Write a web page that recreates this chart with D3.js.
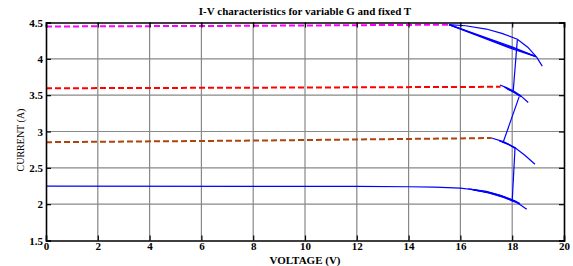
<!DOCTYPE html>
<html>
<head>
<meta charset="utf-8">
<script src="https://cdn.jsdelivr.net/npm/d3@7"></script>
<style>
  body { margin: 0; background: #fff; }
  text { font-family: "Liberation Serif", "Times New Roman", serif; }
</style>
</head>
<body>
<div id="my-draw"></div>
<script>
// tick values
var xTicks = [0, 2, 4, 6, 8, 10, 12, 14, 16, 18, 20];
var yTicks = [1.5, 2, 2.5, 3, 3.5, 4, 4.5];

// dashed parts (V, I)
var dashG1 = [[0, 4.445], [8, 4.455], [15.56, 4.47]];
var dashG2 = [[0, 3.595], [8, 3.603], [17.55, 3.615]];
var dashG3 = [[0, 2.853], [8, 2.875], [17.2, 2.91]];

// blue solid curve of lowest G
var curveG4 = [[0, 2.247], [12, 2.245], [14, 2.24], [15, 2.235], [16, 2.22], [16.6, 2.195],
               [17.14, 2.16], [17.5, 2.125], [17.92, 2.07], [18.2, 2.02], [18.56, 1.93]];
var bandG4 = [
  [[16.3, 2.212], [17.0, 2.175], [17.6, 2.115], [18.1, 2.045], [18.3, 2.01]],
  [[16.4, 2.204], [17.0, 2.165], [17.6, 2.105], [18.1, 2.035], [18.3, 2.0]],
  [[16.5, 2.196], [17.1, 2.155], [17.7, 2.09], [18.1, 2.03]]
];

// blue knees of the other curves
var kneeG1 = [[15.56, 4.47], [16.2, 4.455], [17.0, 4.41], [17.6, 4.35], [18.2, 4.27],
              [18.6, 4.16], [18.95, 4.02], [19.16, 3.90]];
var chordsG1 = [
  [[15.56, 4.47], [18.04, 4.158], [18.92, 4.03]],
  [[15.56, 4.47], [18.04, 4.145], [18.92, 4.03]],
  [[15.56, 4.47], [18.04, 4.132], [18.92, 4.03]]
];
var kneeG2 = [
  [[17.53, 3.64], [17.8, 3.60], [18.04, 3.56], [18.3, 3.50], [18.62, 3.40]],
  [[17.7, 3.61], [18.0, 3.555], [18.3, 3.49]],
  [[17.8, 3.585], [18.1, 3.535], [18.35, 3.48]]
];
var kneeG3 = [
  [[17.2, 2.91], [17.66, 2.86], [18.1, 2.78], [18.5, 2.67], [18.88, 2.55]],
  [[17.5, 2.87], [17.8, 2.835], [18.1, 2.77]],
  [[17.6, 2.855], [17.9, 2.815], [18.15, 2.765]]
];

// tracking jumps between the curves
var jumps = [
  [[18.2, 4.27], [18.04, 3.56]],
  [[18.27, 3.48], [17.66, 2.86]],
  [[18.11, 2.78], [18.0, 2.04]]
];

var width = 573, height = 266;
var margin = {left: 46, right: 9, top: 22.5, bottom: 25.5};
var drawWidth = width - margin.left - margin.right;
var drawHeight = height - margin.top - margin.bottom;

var svg = d3.select("#my-draw")
            .append("svg")
            .attr("width", width)
            .attr("height", height);

var canvas = svg.append("g")
                .attr("transform", "translate(" + margin.left + "," + margin.top + ")");

var x = d3.scaleLinear().domain([0, 20]).range([0, drawWidth]);
var y = d3.scaleLinear().domain([1.5, 4.5]).range([drawHeight, 0]);

var line = d3.line()
             .x(function(d) { return x(d[0]); })
             .y(function(d) { return y(d[1]); });

// grid
canvas.selectAll(".vgrid")
      .data(xTicks.slice(1, -1))
      .enter().append("line")
      .attr("x1", function(d) { return x(d); })
      .attr("x2", function(d) { return x(d); })
      .attr("y1", 0).attr("y2", drawHeight)
      .attr("stroke", "#888").attr("stroke-width", 1.2);

canvas.selectAll(".hgrid")
      .data(yTicks.slice(1, -1))
      .enter().append("line")
      .attr("y1", function(d) { return y(d); })
      .attr("y2", function(d) { return y(d); })
      .attr("x1", 0).attr("x2", drawWidth)
      .attr("stroke", "#888").attr("stroke-width", 1.2);

// dashed lines
var dashes = [[dashG1, "#ff00ff"], [dashG2, "#ff0000"], [dashG3, "#b0420c"]];
dashes.forEach(function(s) {
  canvas.append("path")
        .datum(s[0])
        .attr("fill", "none")
        .attr("stroke", s[1])
        .attr("stroke-width", 2)
        .attr("stroke-dasharray", "6,3")
        .attr("d", line);
});

// blue lines
var blues = [curveG4, kneeG1].concat(bandG4, chordsG1, kneeG2, kneeG3, jumps);
canvas.selectAll(".blue")
      .data(blues)
      .enter().append("path")
      .attr("fill", "none")
      .attr("stroke", "#0000ff")
      .attr("stroke-width", 1.2)
      .attr("d", line);

// axes (box with inward ticks)
var axisB = canvas.append("g")
      .attr("transform", "translate(0," + drawHeight + ")")
      .call(d3.axisBottom(x).tickValues(xTicks).tickSize(-5).tickPadding(2).tickFormat(d3.format("d")));
var axisT = canvas.append("g")
      .call(d3.axisTop(x).tickValues(xTicks).tickSize(-5).tickFormat(""));
var axisL = canvas.append("g")
      .call(d3.axisLeft(y).tickValues(yTicks).tickSize(-5).tickPadding(3).tickFormat(function(d) { return String(d); }));
var axisR = canvas.append("g")
      .attr("transform", "translate(" + drawWidth + ",0)")
      .call(d3.axisRight(y).tickValues(yTicks).tickSize(-5).tickFormat(""));

[axisB, axisT, axisL, axisR].forEach(function(a) {
  a.select(".domain").attr("stroke", "#000").attr("stroke-width", 1.6);
  a.selectAll(".tick line").attr("stroke", "#000").attr("stroke-width", 1.2);
  a.selectAll("text")
   .attr("fill", "#000")
   .style("font-size", "11px")
   .style("font-weight", "bold")
   .style("font-family", "'Liberation Serif', serif");
});

// titles
svg.append("text")
   .attr("x", margin.left + drawWidth / 2)
   .attr("y", 15)
   .attr("text-anchor", "middle")
   .style("font-size", "11px")
   .style("font-weight", "bold")
   .text("I-V characteristics for variable G and fixed T");

svg.append("text")
   .attr("x", margin.left + drawWidth / 2)
   .attr("y", 264)
   .attr("text-anchor", "middle")
   .style("font-size", "11px")
   .style("font-weight", "bold")
   .text("VOLTAGE (V)");

svg.append("text")
   .attr("transform", "rotate(-90)")
   .attr("x", -140)
   .attr("y", 24)
   .attr("text-anchor", "middle")
   .style("font-size", "10px")
   .text("CURRENT (A)");
</script>
</body>
</html>
